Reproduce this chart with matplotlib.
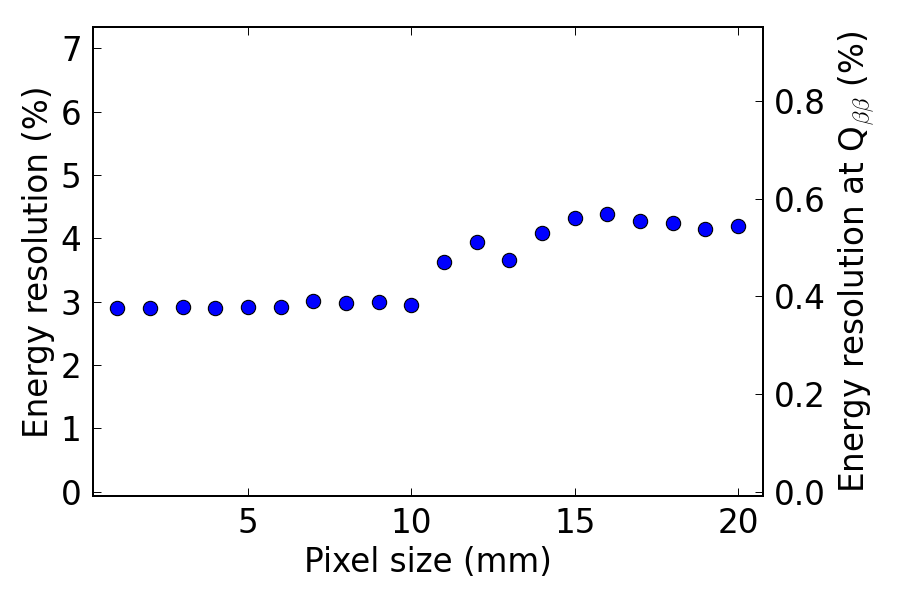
import matplotlib
matplotlib.use("Agg")
import matplotlib.pyplot as plt

pixel_size = [1, 2, 3, 4, 5, 6, 7, 8, 9, 10, 11, 12, 13, 14, 15, 16, 17, 18, 19, 20]
resolution = [2.905, 2.90, 2.91, 2.905, 2.91, 2.92, 3.006, 2.98, 2.99, 2.94,
              3.626, 3.947, 3.653, 4.084, 4.316, 4.379, 4.279, 4.237, 4.143, 4.19]
x_ticks = [5, 10, 15, 20]
left_ticks = [0, 1, 2, 3, 4, 5, 6, 7]
right_ticks = [0.0, 0.2, 0.4, 0.6, 0.8]
qbb_scale = 0.1297

plt.rcParams['mathtext.fontset'] = 'cm'
plt.rcParams['font.family'] = ['DejaVu Sans']
fs = 23.5

fig = plt.figure(figsize=(9, 6), dpi=100)
ax = fig.add_axes([0.103, 0.1733, 0.7444, 0.7822])
ax.plot(pixel_size, resolution, linestyle='none', marker='o', markersize=10.3,
        markerfacecolor=(0, 0, 1), markeredgecolor='black', markeredgewidth=0.8)
ax.set_xlim(0.25, 20.75)
ylo, yhi = -0.068, 7.34
ax.set_ylim(ylo, yhi)
ax.set_xticks(x_ticks)
ax.set_yticks(left_ticks)
ax.set_xlabel('Pixel size (mm)', fontsize=fs)
ax.set_ylabel('Energy resolution (%)', fontsize=fs)

ax2 = ax.twinx()
ax2.set_ylim(ylo * qbb_scale, yhi * qbb_scale)
ax2.set_yticks(right_ticks)
ax2.set_yticklabels(['%.1f' % v for v in right_ticks])
ax2.set_ylabel(r'Energy resolution at Q$_{\beta\beta}$ (%)', fontsize=fs, labelpad=8)

for a in (ax, ax2):
    for s in a.spines.values():
        s.set_linewidth(1.4)
    a.tick_params(direction='in', length=6, width=0.7, labelsize=fs, pad=8)
ax.tick_params(top=True, right=False)
ax2.tick_params(left=False, right=True)

fig.savefig('out.png', dpi=100)
